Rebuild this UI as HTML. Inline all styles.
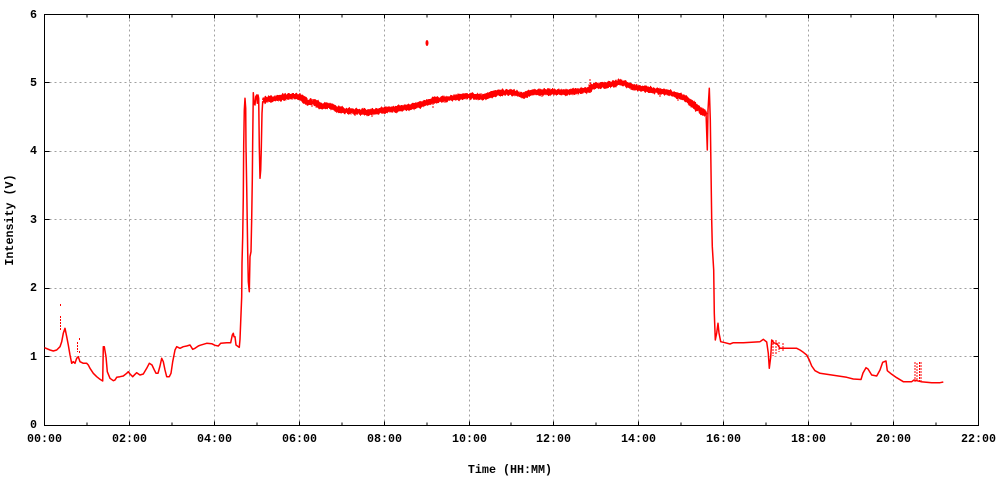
<!DOCTYPE html>
<html><head><meta charset="utf-8"><style>
html,body{margin:0;padding:0;background:#fff;}
svg{display:block;}
text{font-family:"Liberation Mono",monospace;font-weight:bold;font-size:11.7px;fill:#000;}
</style></head><body>
<svg width="1000" height="480" viewBox="0 0 1000 480" xmlns="http://www.w3.org/2000/svg">
<defs>
<filter id="jit" x="-5%" y="-50%" width="110%" height="200%">
<feTurbulence type="fractalNoise" baseFrequency="0.5 0.2" numOctaves="2" seed="3" result="t"/>
<feDisplacementMap in="SourceGraphic" in2="t" scale="4" xChannelSelector="R" yChannelSelector="G"/>
</filter>
</defs>
<rect width="1000" height="480" fill="#fff"/>
<g stroke="#a0a0a0" stroke-width="1" stroke-dasharray="2,3" shape-rendering="crispEdges" fill="none">
<path d="M44.5 356.5H978.5M44.5 288.5H978.5M44.5 219.5H978.5M44.5 151.5H978.5M44.5 82.5H978.5"/>
<path d="M129.5 14.5V425.5M214.5 14.5V425.5M299.5 14.5V425.5M384.5 14.5V425.5M469.5 14.5V425.5M553.5 14.5V425.5M638.5 14.5V425.5M723.5 14.5V425.5M808.5 14.5V425.5M893.5 14.5V425.5"/>
</g>
<g stroke="#000" stroke-width="1" shape-rendering="crispEdges" fill="none">
<rect x="44.5" y="14.5" width="934" height="411"/>
<path d="M44.5 356.5h5M44.5 288.5h5M44.5 219.5h5M44.5 151.5h5M44.5 82.5h5M978.5 356.5h-5M978.5 288.5h-5M978.5 219.5h-5M978.5 151.5h-5M978.5 82.5h-5"/>
<path d="M87 425.5v-3M129.5 425.5v-4M172 425.5v-3M214.5 425.5v-4M257 425.5v-3M299.5 425.5v-4M342 425.5v-3M384.5 425.5v-4M427 425.5v-3M469.5 425.5v-4M511 425.5v-3M553.5 425.5v-4M596 425.5v-3M638.5 425.5v-4M681 425.5v-3M723.5 425.5v-4M766 425.5v-3M808.5 425.5v-4M851 425.5v-3M893.5 425.5v-4M936 425.5v-3"/>
<path d="M87 14.5v3M129.5 14.5v4M172 14.5v3M214.5 14.5v4M257 14.5v3M299.5 14.5v4M342 14.5v3M384.5 14.5v4M427 14.5v3M469.5 14.5v4M511 14.5v3M553.5 14.5v4M596 14.5v3M638.5 14.5v4M681 14.5v3M723.5 14.5v4M766 14.5v3M808.5 14.5v4M851 14.5v3M893.5 14.5v4M936 14.5v3"/>
</g>
<g text-anchor="end" dominant-baseline="central">
<text x="37" y="425">0</text><text x="37" y="357">1</text><text x="37" y="288">2</text><text x="37" y="220">3</text><text x="37" y="151">4</text><text x="37" y="83">5</text><text x="37" y="15">6</text>
</g>
<g text-anchor="middle" dominant-baseline="central">
<text x="44.5" y="439">00:00</text><text x="129.5" y="439">02:00</text><text x="214.5" y="439">04:00</text><text x="299.5" y="439">06:00</text><text x="384.5" y="439">08:00</text><text x="469.5" y="439">10:00</text><text x="553.5" y="439">12:00</text><text x="638.5" y="439">14:00</text><text x="723.5" y="439">16:00</text><text x="808.5" y="439">18:00</text><text x="893.5" y="439">20:00</text><text x="978.5" y="439">22:00</text>
<text x="510" y="470">Time (HH:MM)</text>
<text transform="translate(10,220) rotate(-90)">Intensity (V)</text>
</g>
<g fill="none" stroke="#ff0000" stroke-linejoin="round">
<polyline stroke-width="1.5" points="44.5,347.7 50,350 53.3,351 56.7,350 60,346.7 61.7,341.7 63.3,333.3 65,328.3 66.7,336.7 68.3,345 70,355 71.7,363.3 73.3,361.7 75,363.3 76.7,358.3 78.3,356.7 80,361.7 83.3,363.3 86.7,363.3 88.3,365 90,368.3 93.3,373.3 96.7,376.7 100,379.3 102.7,381 103.3,346.7 104.3,346.7 106,356.7 107.3,371.7 110,378.3 113.3,380.7 115,380 116.7,377.3 120,376.7 123.3,376 126.7,373.3 128.3,371.7 130,374 132.7,376.7 135,374.3 136.7,372.7 140,375 143.3,374 146.7,368.3 149.3,363.3 152,365 154,369.3 156,373.3 158,373.3 160,366 161.7,358.3 163.3,361.7 165,370 166.7,376.7 169.3,376.7 171,373.3 172.7,361.7 175,350 176.7,346.7 180,348.3 183.3,346.7 186.7,346 190,345 192.7,349.3 195,348.3 198.3,346 200,345.3 206.7,343.3 211.7,343.7 215,345.3 218.3,346 220.7,343.3 226.7,342.7 230.7,342.7 232.3,335 233.3,333.3 234,336.7 235,336.7 236,345 238.3,346.7 239.3,347.3 240,339.3 240.7,321.7 241.7,296.7 242,263.3 242.7,236.7 243.3,196.7 243.7,145 244.3,110 245,98.3 245.7,108.3 246,146.7 246.7,186.7 247.7,251.7 248.3,281.7 249.3,291.7 250,256.7 251,251.7 251.7,218.3 252.3,180 252.7,140 253.3,92.7 254,103.3 255,105 255.7,96.7 256.7,95 257.3,103.3 258,95 258.7,98.3 259.3,146.7 260,178.3 260.7,170 261.3,148.3 262,113.3 262.7,101.7 263.3,103.3"/>
<polyline stroke-width="6" filter="url(#jit)" points="263,101 268,99 277,98.5 285,97 290,96.3 295,96 300,97.3 303,99 307,102 315,102.3 320,106 330,105.7 340,110 350,111.3 360,111.7 370,112.3 380,110.7 390,109.7 400,108.3 410,107 420,105 433,100.7 450,98.3 466.7,96 475,96.5 483,97.3 490,95 500,92.5 513,92.3 523,95.5 533,92.3 550,92 566.7,92.3 583,90.7 590,89 592,86.3 606.7,85 620,82.3 626,84 633.3,87.3 650,89.7 666.7,92.3 683.3,97.3 690,102 696.7,107.3 703.3,113 706,111"/>
<polyline stroke-width="1.5" points="706,112 707.3,150 708,110 709.3,88.3 710.3,120 711,170 711.7,220 712.3,246.7 713.7,270 714.3,313.3 715.3,340 716.7,333 718,323.3 719,333 720.7,341.7 725,342.7 730,344 733.3,342.7 743.3,342.7 760,341.7 763.3,339.3 766.7,342 768.3,353.3 769.3,368.3 770.7,357 771.7,340 774,343 776.7,343.3 780,348.3 786.7,348.3 796.7,348.3 800,350 803.3,352.3 806.7,355 809.3,360 811.7,366 815,370.7 820,373.3 826.7,374.3 836.7,375.7 846.7,377.3 853.3,379 861,379.5 863,373 866,367.7 868,369 871.7,375 876.7,376 880,370 882.7,362.3 886,361 887.3,370.7 891.7,374.3 896.7,377.7 903.3,381.7 911.7,381.7 914,380 921,381.7 931.7,382.7 940,382.7 943.3,382"/>
<path stroke-width="1" d="M60.5 304v2M60.5 316v14M77.5 342v10M79.5 338v2M79.5 351v2M590 79v10M433 100v8M773 340v16M776 340v14M779 342v10M783 343v8M915 362v20M917 363v18M919.5 362v20M921 362v20" stroke-dasharray="2,1"/>
<path stroke-width="1" d="M300 97v-4M312 101v6M355 110v6M372 112v5M397 106v5M445 97v6M470 95v5M515 91v5M542 92v5M605 84v5M625 80v5M660 92v5M678 95v6" />
</g>
<ellipse cx="427" cy="43" rx="1.5" ry="3" fill="#ff0000"/>
</svg>
</body></html>
